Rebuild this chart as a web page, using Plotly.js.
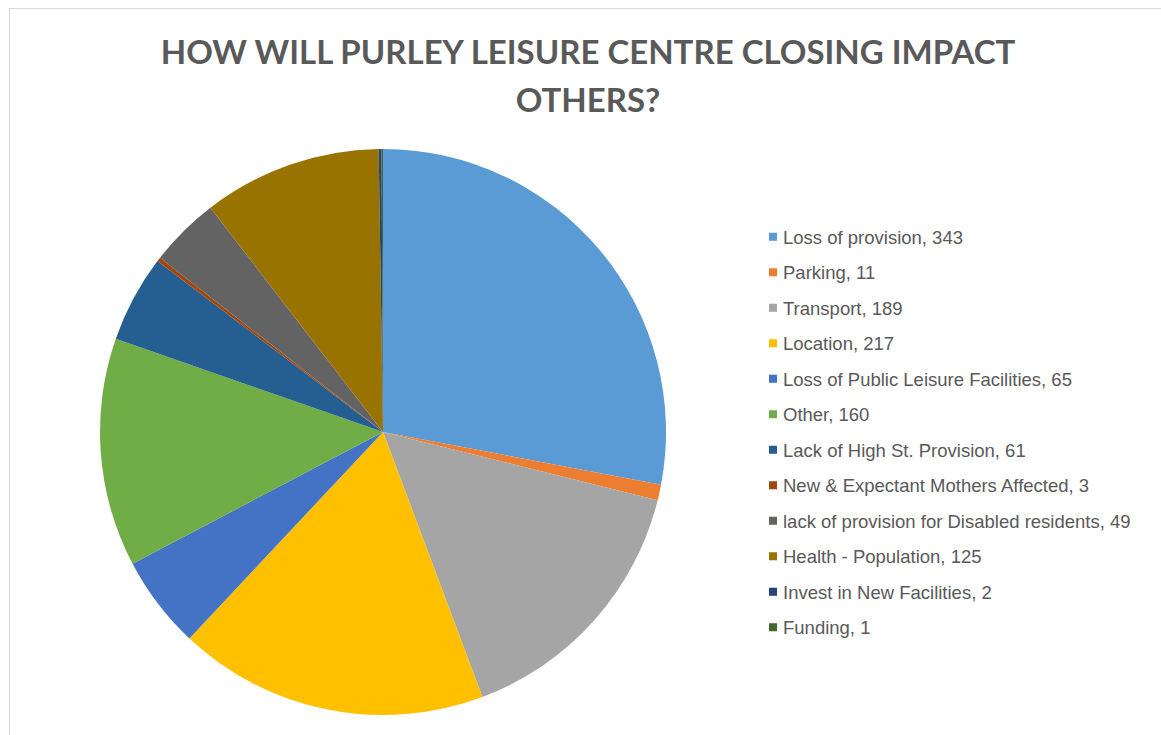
<!DOCTYPE html>
<html>
<head>
<meta charset="utf-8">
<script src="https://cdn.plot.ly/plotly-3.0.1.min.js"></script>
<style>
  html, body { margin: 0; padding: 0; overflow: hidden; background: #fff; }
  #chart { width: 1161px; height: 735px; }
  #frame { position: absolute; left: 9px; top: 8px; right: -10px; bottom: -10px;
           border: 1px solid #d9d9d9; pointer-events: none; }
</style>
</head>
<body>
<div id="chart"></div>
<div id="frame"></div>
<script>
const categories = [
  "Loss of provision",
  "Parking",
  "Transport",
  "Location",
  "Loss of Public Leisure Facilities",
  "Other",
  "Lack of High St. Provision",
  "New & Expectant Mothers Affected",
  "lack of provision for Disabled residents",
  "Health - Population",
  "Invest in New Facilities",
  "Funding"
];
const counts = [343, 11, 189, 217, 65, 160, 61, 3, 49, 125, 2, 1];
const sliceColors = [
  "#5B9BD5", "#ED7D31", "#A5A5A5", "#FFC000", "#4472C4", "#70AD47",
  "#255E91", "#9E480E", "#636363", "#997300", "#264478", "#43682B"
];
const titleLines = ["HOW WILL PURLEY LEISURE CENTRE CLOSING IMPACT", "OTHERS?"];

const legendLabels = categories.map((c, i) =>
  '<span style="font-size:18.5px;baseline-shift:3px">' + c + ', ' + counts[i] + '</span>');

const trace = {
  type: 'pie',
  labels: legendLabels,
  values: counts,
  marker: { colors: sliceColors, line: { width: 0 } },
  sort: false,
  direction: 'clockwise',
  rotation: 0,
  textinfo: 'none',
  hoverinfo: 'label+value+percent',
  domain: { x: [100 / 1161, 666 / 1161], y: [20 / 735, 586 / 735] }
};

const layout = {
  width: 1161,
  height: 735,
  margin: { l: 0, r: 0, t: 0, b: 0 },
  paper_bgcolor: '#ffffff',
  title: {
    text: titleLines.map(t => '<span style="font-size:33px">' + t + '</span>').join('<br>'),
    font: { family: 'Lato, sans-serif', size: 37, color: '#595959', weight: 700 },
    x: 588 / 1161, xanchor: 'center',
    y: 1 - 63.5 / 735, yanchor: 'top', yref: 'container'
  },
  showlegend: true,
  legend: {
    x: 743 / 1161, xanchor: 'left',
    y: 1 - 214 / 735, yanchor: 'top',
    font: { family: 'Liberation Sans, Arial, sans-serif', size: 25, color: '#595959' },
    bgcolor: 'rgba(0,0,0,0)',
    traceorder: 'normal'
  }
};

Plotly.newPlot('chart', [trace], layout, { displayModeBar: false, staticPlot: true }).then(gd => {
  gd.querySelectorAll('.legend .legendpoints path').forEach(p => {
    p.setAttribute('transform', 'translate(30,0) scale(0.67)');
  });
});
</script>
</body>
</html>
